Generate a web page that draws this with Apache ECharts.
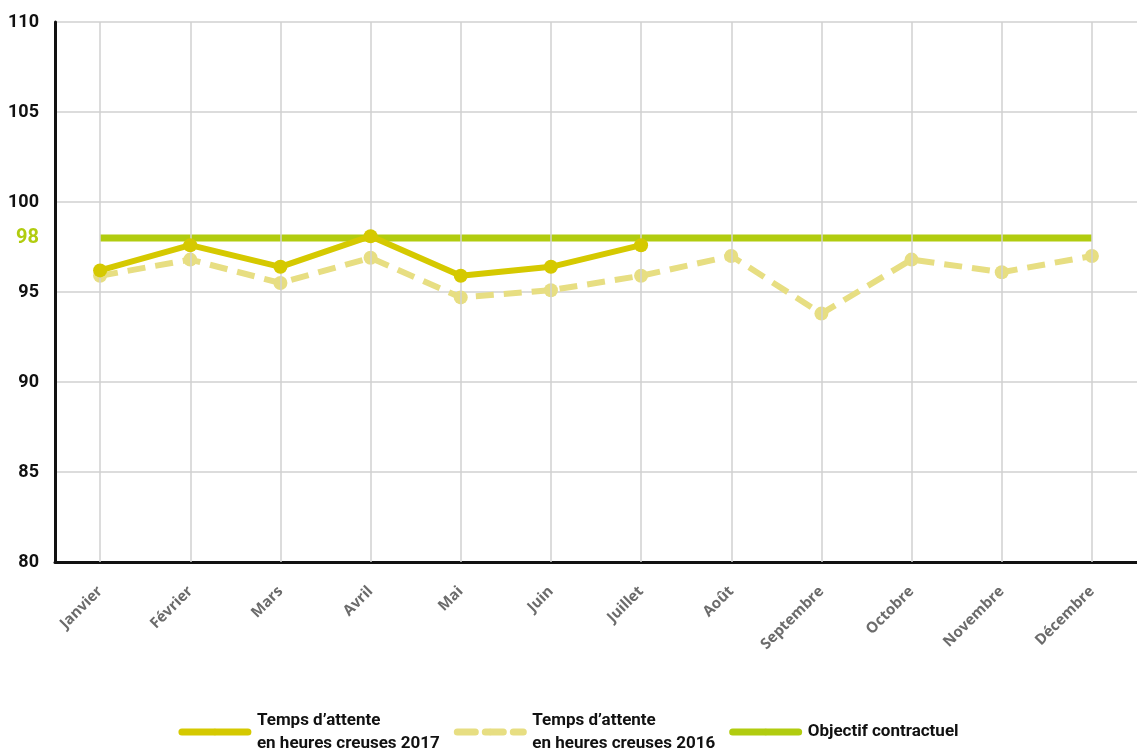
<!DOCTYPE html>
<html><head><meta charset="utf-8">
<script src="https://cdn.jsdelivr.net/npm/echarts@6/dist/echarts.min.js"></script>
<style>html,body{margin:0;padding:0;background:#fff}#c{width:1137px;height:749px}</style>
</head><body><div id="c"></div>
<script>
const months = ['Janvier','Février','Mars','Avril','Mai','Juin','Juillet','Août','Septembre','Octobre','Novembre','Décembre'];
const wait2017 = [96.2, 97.6, 96.4, 98.1, 95.9, 96.4, 97.6, null, null, null, null, null];
const wait2016 = [95.9, 96.8, 95.5, 96.9, 94.7, 95.1, 95.9, 97.0, 93.8, 96.8, 96.1, 97.0];
const objective = [98, 98, 98, 98, 98, 98, 98, 98, 98, 98, 98, 98];
const yTicks = {min: 80, max: 110, interval: 5};
const objectiveLabel = [98];
const names = ['Temps d\u2019attente\nen heures creuses 2017', 'Temps d\u2019attente\nen heures creuses 2016', 'Objectif contractuel'];

const C2017 = '#d5c900', C2016 = '#e7de82', CGREEN = '#b1cc0f';
const chart = echarts.init(document.getElementById('c'), null, {renderer: 'canvas'});
chart.setOption({
  animation: false,
  backgroundColor: '#fff',
  grid: {left: 55, right: -1, top: 22, bottom: 187, containLabel: false},
  legend: {
    top: 704, left: 'center', itemWidth: 66, itemHeight: 8, itemGap: 14,
    data: names,
    lineStyle: {width: 7, cap: 'round'},
    textStyle: {fontFamily: 'Roboto', fontWeight: 'bold', fontSize: 17, color: '#111', lineHeight: 23, padding: [0,0,0,4]}
  },
  xAxis: {
    type: 'category', data: months, boundaryGap: true,
    axisLine: {lineStyle: {color: '#111', width: 3}},
    axisTick: {show: false},
    splitLine: {show: false},
    axisLabel: {rotate: 45, interval: 0, hideOverlap: false, margin: 27, color: '#6b6b6b', fontFamily: 'Open Sans', fontWeight: 'bold', fontSize: 15}
  },
  yAxis: [{
    type: 'value', min: yTicks.min, max: yTicks.max, interval: yTicks.interval,
    axisLine: {show: true, lineStyle: {color: '#111', width: 3}},
    axisTick: {show: false},
    splitLine: {lineStyle: {color: '#d0d0d0', width: 1.5}},
    axisLabel: {margin: 16, color: '#111', fontFamily: 'Roboto', fontWeight: 'bold', fontSize: 18}
  }, {
    type: 'value', min: yTicks.min, max: yTicks.max, position: 'left',
    axisLine: {show: false}, axisTick: {show: false}, splitLine: {show: false},
    axisLabel: {customValues: objectiveLabel, margin: 16, color: CGREEN, fontFamily: 'Roboto', fontWeight: 'bold', fontSize: 20}
  }],
  series: [
    {
      name: '_grid', type: 'line', data: [], z: 1, silent: true,
      markLine: {silent: true, symbol: 'none', label: {show: false},
        lineStyle: {color: '#d0d0d0', width: 1.5, type: 'solid'},
        data: months.map(m => ({xAxis: m}))}
    },
    {
      name: names[1], type: 'line', data: wait2016, z: 3,
      symbol: 'circle', symbolSize: 14, color: C2016,
      lineStyle: {color: C2016, width: 6, type: [18, 10]},
      itemStyle: {color: C2016}
    },
    {
      name: names[2], type: 'line', data: objective, z: 4,
      symbol: 'none', color: CGREEN,
      lineStyle: {color: CGREEN, width: 7}
    },
    {
      name: names[0], type: 'line', data: wait2017, z: 5,
      symbol: 'circle', symbolSize: 14, color: C2017,
      lineStyle: {color: C2017, width: 6},
      itemStyle: {color: C2017}
    }
  ]
});
</script></body></html>
